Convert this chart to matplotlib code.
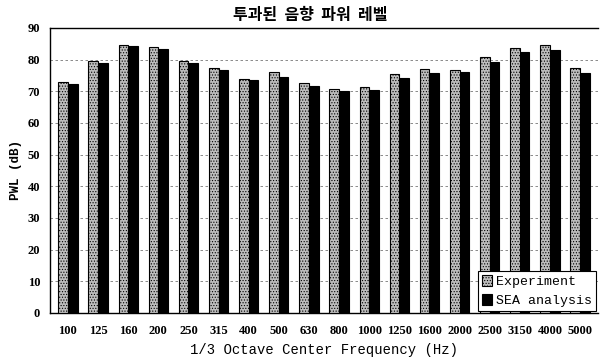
import matplotlib.pyplot as plt
import numpy as np

plt.rcParams['font.family'] = ['Liberation Serif', 'Noto Sans CJK KR', 'DejaVu Sans']
plt.rcParams['hatch.color'] = '#8a8a8a'
plt.rcParams['hatch.linewidth'] = 0.5

freqs = ['100', '125', '160', '200', '250', '315', '400', '500', '630', '800',
         '1000', '1250', '1600', '2000', '2500', '3150', '4000', '5000']
experiment = [72.8, 79.6, 84.5, 83.9, 79.7, 77.3, 74.0, 76.2, 72.7, 70.8,
              71.4, 75.6, 77.0, 76.8, 80.7, 83.6, 84.7, 77.3]
sea = [72.4, 79.0, 84.4, 83.5, 78.8, 76.6, 73.5, 74.6, 71.7, 70.0,
       70.3, 74.2, 75.7, 76.0, 79.1, 82.3, 83.1, 75.8]

x = np.arange(len(freqs))
width = 0.32

fig = plt.figure(figsize=(6, 3.63), dpi=100)
ax = fig.add_axes([0.083, 0.138, 0.914, 0.785])

ax.bar(x - width / 2, experiment, width, color='#bdbdbd', edgecolor='black',
       linewidth=0.8, hatch='......', label='Experiment', zorder=3)
ax.bar(x + width / 2, sea, width, color='black', edgecolor='black',
       linewidth=0.8, label='SEA analysis', zorder=3)

ax.set_xlim(-0.6, len(freqs) - 0.4)
ax.set_ylim(0, 90)
ax.set_yticks(range(0, 91, 10))
ax.set_xticks(x)
ax.set_xticklabels(freqs)
ax.tick_params(axis='both', length=0, labelsize=9, pad=7)
ax.tick_params(axis='x', pad=9)
for lab in ax.get_xticklabels() + ax.get_yticklabels():
    lab.set_fontweight('bold')
ax.yaxis.grid(True, ls=(0, (3, 3)), color='#777777', linewidth=0.6, zorder=0)

for s in ax.spines.values():
    s.set_linewidth(1.0)
ax.spines['top'].set_linestyle((0, (6, 1)))
ax.spines['right'].set_visible(False)

ax.set_ylabel('PWL (dB)', family='Liberation Mono', fontsize=9, fontweight='bold')
ax.set_xlabel('1/3 Octave Center Frequency (Hz)', family='Liberation Mono',
              fontsize=10, labelpad=4)
fig.suptitle('투과된  음향  파워  레벨', family=['Noto Sans CJK KR', 'DejaVu Sans'],
             fontsize=11.5, fontweight='bold', x=0.517, y=0.982)

leg = ax.legend(loc='lower right', prop={'family': 'Liberation Mono', 'size': 9.5},
                frameon=True, fancybox=False, edgecolor='black', framealpha=1,
                handlelength=0.8, handleheight=0.9, handletextpad=0.3,
                borderaxespad=0.15, labelspacing=0.45, borderpad=0.3)
leg.get_frame().set_linewidth(0.8)

fig.savefig('out.png', dpi=100)
